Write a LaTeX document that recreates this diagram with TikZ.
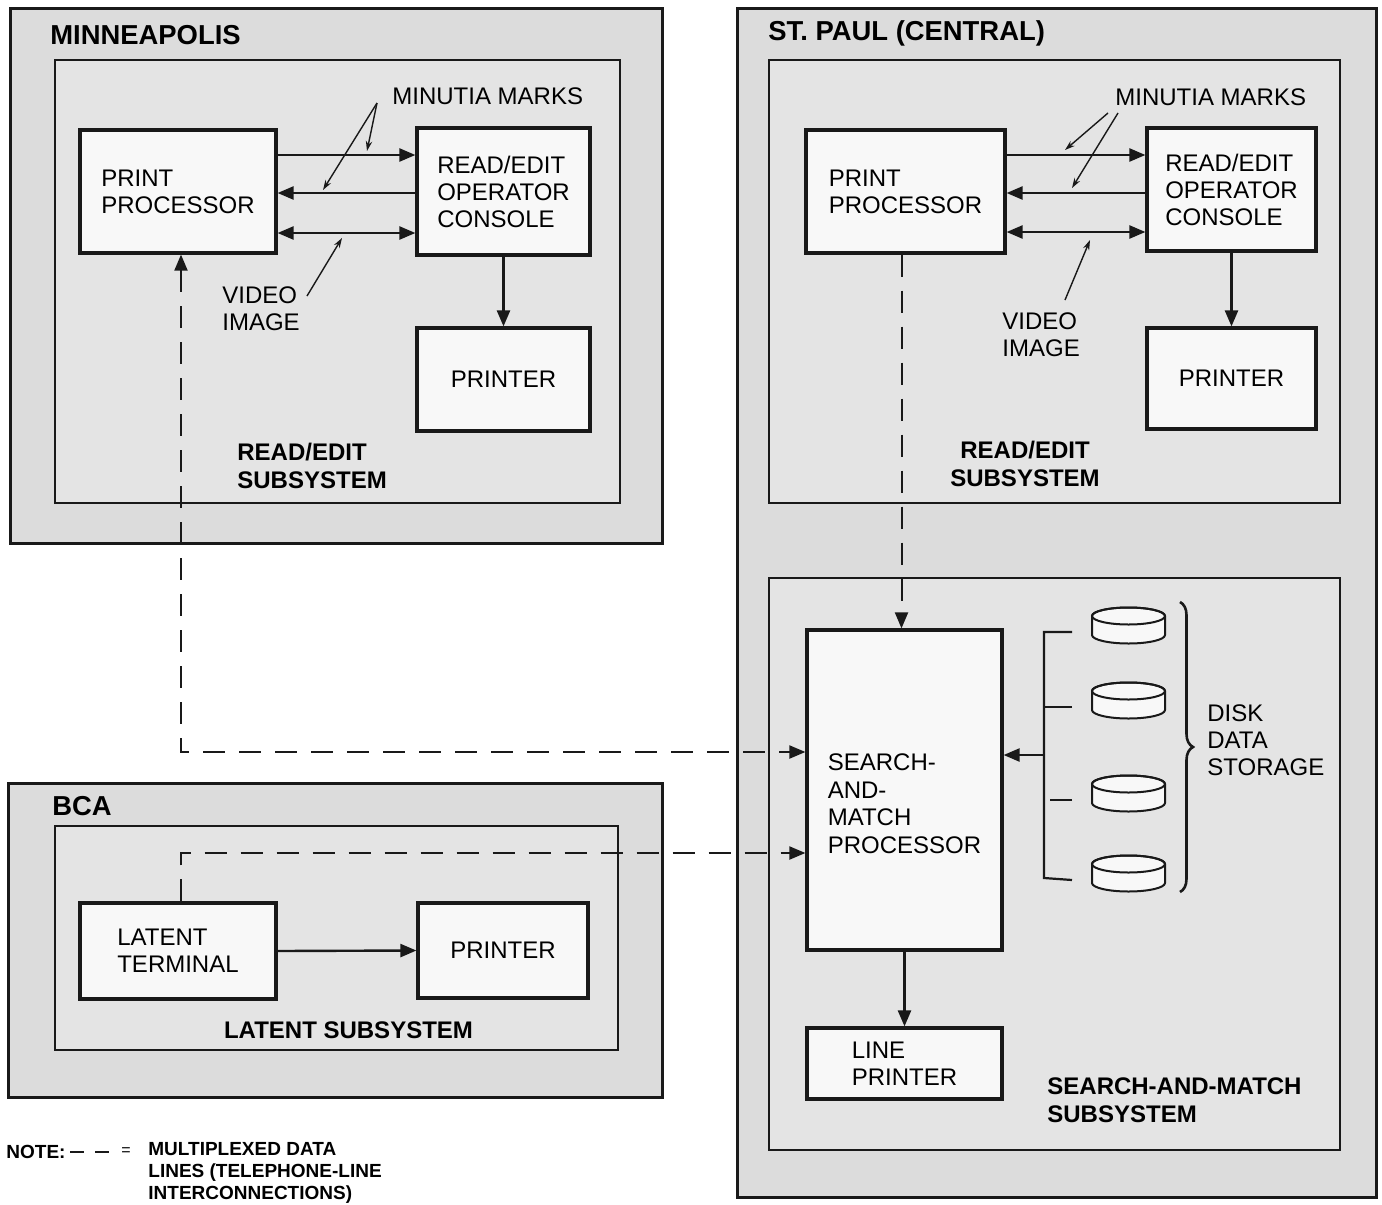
\documentclass[tikz,border=0pt]{standalone}
\usepackage{fontspec}
\setmainfont{Liberation Sans}
\usetikzlibrary{arrows.meta,decorations.pathreplacing,calc}
\definecolor{ink}{RGB}{25,25,25}
\definecolor{regionfill}{RGB}{220,220,220}
\definecolor{subfill}{RGB}{228,228,228}
\definecolor{boxfill}{RGB}{248,248,248}
\begin{document}
\begin{tikzpicture}[x=0.5pt,y=-0.5pt,
  region/.style={draw=ink, line width=1.5pt, fill=regionfill, inner sep=0pt},
  subsys/.style={draw=ink, line width=1.1pt, fill=subfill, inner sep=0pt},
  unit/.style={draw=ink, line width=1.6pt, fill=boxfill, align=left, font=\fontsize{12}{13.5}\selectfont, inner sep=0pt},
  title/.style={anchor=west, font=\fontsize{13.7}{15}\selectfont\bfseries, inner sep=0pt},
  sublabel/.style={anchor=west, align=left, font=\fontsize{12}{14}\selectfont\bfseries, inner sep=0pt},
  plain/.style={anchor=west, align=left, font=\fontsize{12}{13.5}\selectfont, inner sep=0pt},
  flow/.style={draw=ink, line width=1.2pt, -{Triangle[length=8pt,width=6.5pt]}},
  biflow/.style={draw=ink, line width=1.2pt, {Triangle[length=8pt,width=6.5pt]}-{Triangle[length=8pt,width=6.5pt]}},
  lead/.style={draw=ink, line width=0.7pt, -{Stealth[length=5pt,width=3.2pt]}},
  mux/.style={draw=ink, line width=1pt, dash pattern=on 11pt off 7pt},
  notefont/.style={font=\fontsize{9.5}{11}\selectfont\bfseries, inner sep=0pt},
]
\useasboundingbox[fill=white] (0,0) rectangle (1382,1205);

% ---------------- Minneapolis ----------------
\node[region, minimum width=326pt, minimum height=267.5pt] (mpls) at (336,275.5) {};
\node[subsys, minimum width=282.5pt, minimum height=221.5pt] (mre) at (337.5,281.5) {};
\node[title] (mplst) at (50,35) {MINNEAPOLIS};
\node[unit, minimum width=98pt, minimum height=61.5pt] (mpp) at (178,191.5) {PRINT\\PROCESSOR};
\node[unit, minimum width=86.5pt, minimum height=63.5pt] (mcon) at (503.5,191.5) {READ/EDIT\\OPERATOR\\CONSOLE};
\node[unit, minimum width=86.5pt, minimum height=51.5pt] (mprn) at (503.5,379.5) {PRINTER};
\node[plain] (mmm) at (392,96) {MINUTIA MARKS};
\node[plain] (mvid) at (222,308.5) {VIDEO\\IMAGE};
\node[sublabel] (mres) at (237,466) {READ/EDIT\\SUBSYSTEM};

% ---------------- St. Paul ----------------
\node[region, minimum width=319.5pt, minimum height=594.5pt] (stp) at (1056.5,602.5) {};
\node[subsys, minimum width=285.5pt, minimum height=221.5pt] (sre) at (1054.5,281.5) {};
\node[subsys, minimum width=285.5pt, minimum height=286pt] (ssm) at (1054.5,864) {};
\node[title] (stpt) at (768,33) {ST. PAUL (CENTRAL)};
\node[unit, minimum width=99.5pt, minimum height=61.5pt] (spp) at (905.5,191.5) {PRINT\\PROCESSOR};
\node[unit, minimum width=84.5pt, minimum height=61.5pt] (scon) at (1231.5,189.5) {READ/EDIT\\OPERATOR\\CONSOLE};
\node[unit, minimum width=84.5pt, minimum height=50.5pt] (sprn) at (1231.5,378.5) {PRINTER};
\node[plain] (smm) at (1115,97) {MINUTIA MARKS};
\node[plain] (svid) at (1002,334.5) {VIDEO\\IMAGE};
\node[sublabel, anchor=center, align=center] (sres) at (1025,464) {READ/EDIT\\SUBSYSTEM};

\node[unit, minimum width=97.5pt, minimum height=160pt, font=\fontsize{12}{13.8}\selectfont] (smp) at (904.5,790) {\rule{0pt}{22pt}SEARCH-\\AND-\\MATCH\\PROCESSOR};
\node[unit, minimum width=97.5pt, minimum height=35.5pt] (lp) at (904.5,1063.5) {LINE\\PRINTER};
\node[plain] (dds) at (1207,740) {DISK\\DATA\\STORAGE};
\node[sublabel] (sms) at (1047,1100.5) {SEARCH-AND-MATCH\\SUBSYSTEM};

% disks
\foreach \ty/\nm in {616/d1, 691/d2, 784/d3, 864/d4}{
  \filldraw[draw=ink, line width=1pt, fill=boxfill] (1092,\ty) -- (1092,\ty+19)
    arc[start angle=180, end angle=360, x radius=18.25pt, y radius=4.25pt]
    -- (1165,\ty) arc[start angle=0, end angle=180, x radius=18.25pt, y radius=4.25pt] -- cycle;
  \draw[ink, line width=1pt] (1128.5,\ty) ellipse[x radius=18.25pt, y radius=4.25pt];
  \coordinate (\nm) at (1072,\ty+16);
}
\coordinate (bus1) at (1044,632);
\coordinate (bus4) at (1044,878);
\coordinate (busmid) at (1044,755);
\draw[ink, line width=1.1pt] (d1) -- (bus1) -- (bus4) -- (d4);
\draw[ink, line width=1.1pt] (d2) -- (bus1 |- d2);
\draw[ink, line width=1.1pt] (d3) -- ([xshift=3pt]bus1 |- d3);
\draw[flow] (busmid) -- (smp.east |- busmid);
\coordinate (brt) at (1180,602);
\coordinate (brb) at (1180,892);
\draw[ink, line width=1.3pt, decorate, decoration={brace, amplitude=6.5pt}] (brt) -- (brb);

% ---------------- BCA ----------------
\node[region, minimum width=327pt, minimum height=157pt] (bca) at (335,940) {};
\node[subsys, minimum width=281.5pt, minimum height=112pt] (lat) at (336.5,938) {};
\node[title] (bcat) at (52,806) {BCA};
\node[unit, minimum width=98pt, minimum height=48pt] (lt) at (178,951) {LATENT\\TERMINAL};
\node[unit, minimum width=85pt, minimum height=47.5pt] (bprn) at (503,950.5) {PRINTER};
\node[sublabel, anchor=center] (lss) at (348.5,1030) {LATENT SUBSYSTEM};

% ---------------- connectors ----------------
\draw[flow] (mpp.east |- 0,155) -- (mcon.west |- 0,155);
\draw[flow] (mcon.west |- 0,193) -- (mpp.east |- 0,193);
\draw[biflow] (mpp.east |- 0,233) -- (mcon.west |- 0,233);
\draw[flow] (mcon.south) -- (mprn.north);

\draw[flow] (spp.east |- 0,155) -- (scon.west |- 0,155);
\draw[flow] (scon.west |- 0,193) -- (spp.east |- 0,193);
\draw[biflow] (spp.east |- 0,232) -- (scon.west |- 0,232);
\draw[flow] (scon.south) -- (sprn.north);

\draw[flow] (smp.south) -- (lp.north);
\draw[flow] (lt.east) -- (bprn.west);

% leaders
\coordinate (mla) at (377,103);
\coordinate (mlb) at (367,151);
\coordinate (mlc) at (323,190);
\coordinate (mvs) at (307,296);
\coordinate (mve) at (342,238);
\draw[lead] (mla) -- (mlb);
\draw[lead] (mla) -- (mlc);
\draw[lead] (mvs) -- (mve);

\coordinate (sla) at (1108,113);
\coordinate (slb) at (1065,150);
\coordinate (slc) at (1118,113);
\coordinate (sld) at (1072,188);
\coordinate (svs) at (1065,300);
\coordinate (sve) at (1090,240);
\draw[lead] (sla) -- (slb);
\draw[lead] (slc) -- (sld);
\draw[lead] (svs) -- (sve);

% multiplexed data lines
\draw[mux, -{Triangle[length=8pt,width=6.5pt]}] ([xshift=-2pt]spp.south) -- ([xshift=-2pt]spp.south |- smp.north);
\draw[mux, {Triangle[length=8pt,width=6.5pt]}-{Triangle[length=8pt,width=6.5pt]}] ([xshift=1.5pt]mpp.south) |- (smp.west |- 0,752);
\draw[mux, -{Triangle[length=8pt,width=6.5pt]}] ([xshift=1.5pt]lt.north) |- (smp.west |- 0,853);

% ---------------- note ----------------
\node[notefont, anchor=west] (note) at (6,1152) {NOTE:};
\coordinate (nda) at (70,1152);
\coordinate (ndb) at (111,1152);
\draw[ink, line width=0.9pt, dash pattern=on 7pt off 5.5pt] (nda) -- (ndb);
\node[anchor=center, inner sep=0pt, font=\fontsize{8}{10}\selectfont] (neq) at (126,1152) {=};
\node[notefont, anchor=west, align=left] (ntext) at (148,1173) {MULTIPLEXED DATA\\LINES (TELEPHONE-LINE\\INTERCONNECTIONS)};
\end{tikzpicture}
\end{document}
